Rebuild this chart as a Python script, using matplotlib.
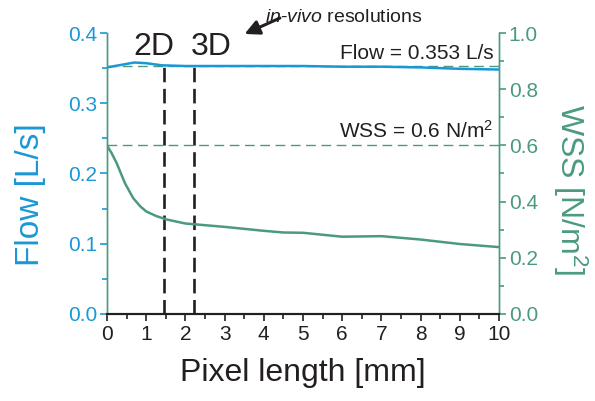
import matplotlib
matplotlib.use("Agg")
import matplotlib.pyplot as plt
from matplotlib.ticker import MultipleLocator, FormatStrFormatter

plt.rcParams['font.family'] = ['Liberation Sans', 'DejaVu Sans']
plt.rcParams['mathtext.fontset'] = 'custom'
plt.rcParams['mathtext.rm'] = 'Liberation Sans'
plt.rcParams['mathtext.it'] = 'Liberation Sans:italic'

BLUE = "#1a98d5"
GREEN = "#4b9a80"
DARK = "#231f20"

# flow rate along the pixel length sweep
flow_x = [0, 0.3, 0.7, 1.0, 1.4, 2, 3, 4, 5, 6, 7, 8, 9, 10]
flow = [0.351, 0.354, 0.358, 0.357, 0.354, 0.353, 0.353, 0.353, 0.353,
        0.352, 0.352, 0.351, 0.349, 0.348]

# wall shear stress along the same sweep
wss_x = [0, 0.12, 0.25, 0.46, 0.67, 0.85, 1.0, 1.25, 1.5, 2.0, 2.5, 3.0,
         3.5, 4.0, 4.5, 5.0, 5.5, 6.0, 7.0, 8.0, 9.0, 10.0]
wss = [0.60, 0.572, 0.536, 0.465, 0.412, 0.383, 0.365, 0.349, 0.337, 0.322,
       0.316, 0.310, 0.303, 0.296, 0.290, 0.289, 0.282, 0.275, 0.277, 0.265,
       0.249, 0.238]

flow_ref = 0.353
wss_ref = 0.6
res_2d = 1.46
res_3d = 2.22

fig = plt.figure(figsize=(5.95, 4.01), dpi=100)
ax = fig.add_axes([0.1798, 0.217, 0.6589, 0.7007])
ax2 = ax.twinx()

ax.plot(flow_x, flow, color=BLUE, lw=1.8, zorder=3)
ax.axhline(flow_ref, color=GREEN, lw=1.0, dashes=(7, 4), zorder=2)
ax2.plot(wss_x, wss, color=GREEN, lw=1.8, zorder=3)
ax2.axhline(wss_ref, color=GREEN, lw=1.0, dashes=(7, 4), zorder=2)

for xr in (res_2d, res_3d):
    ax.plot([xr, xr], [0, 0.3587], color=DARK, lw=1.9, dashes=(5.5, 2.5), zorder=4)

ax.set_xlim(0, 10)
ax.set_ylim(0, 0.4)
ax2.set_ylim(0, 1.0)

ax.xaxis.set_major_locator(MultipleLocator(1))
ax.xaxis.set_minor_locator(MultipleLocator(0.5))
ax.yaxis.set_major_locator(MultipleLocator(0.1))
ax.yaxis.set_minor_locator(MultipleLocator(0.05))
ax.yaxis.set_major_formatter(FormatStrFormatter('%.1f'))
ax2.yaxis.set_major_locator(MultipleLocator(0.2))
ax2.yaxis.set_minor_locator(MultipleLocator(0.1))
ax2.yaxis.set_major_formatter(FormatStrFormatter('%.1f'))

for a in (ax, ax2):
    a.spines['top'].set_visible(False)
    a.spines['left'].set_color(GREEN)
    a.spines['right'].set_color(GREEN)
    a.spines['bottom'].set_color(DARK)
    a.spines['bottom'].set_linewidth(1.5)
    a.spines['left'].set_linewidth(1.0)
    a.spines['right'].set_linewidth(1.0)

ax.tick_params(axis='x', which='both', direction='out', colors=DARK, labelsize=15,
               width=1.2, pad=3)
ax.tick_params(axis='x', which='major', length=5)
ax.tick_params(axis='x', which='minor', length=3.5)
ax.tick_params(axis='y', which='both', direction='out', colors=BLUE, labelsize=15,
               width=1.2, pad=2)
ax.tick_params(axis='y', which='major', length=5)
ax.tick_params(axis='y', which='minor', length=3.5)
ax2.tick_params(axis='y', which='both', direction='out', colors=GREEN, labelsize=15,
                width=1.2, pad=2)
ax2.tick_params(axis='y', which='major', length=5)
ax2.tick_params(axis='y', which='minor', length=3.5)

ax.set_xlabel("Pixel length [mm]", fontsize=23, color=DARK, labelpad=10)
ax.set_ylabel("Flow [L/s]", fontsize=24, color=BLUE, va='center', ha='center')
ax.yaxis.set_label_coords(-0.196, 0.4235)
ax2.set_ylabel("WSS [N/m$^2$]", fontsize=23, color=GREEN, rotation=270,
               va='center', ha='center')
ax2.yaxis.set_label_coords(1.181, 0.441)

ax.text(1.19, 0.3687, "2D", fontsize=23, color=DARK, ha='center', va='baseline', zorder=5)
ax.text(2.65, 0.3687, "3D", fontsize=23, color=DARK, ha='center', va='baseline', zorder=5)
ax.text(4.03, 0.4157, r"$in$-$vivo$ resolutions", fontsize=14, color=DARK,
        ha='left', va='baseline', clip_on=False)
ax.annotate("", xy=(3.51, 0.3986), xytext=(4.41, 0.4213),
            arrowprops=dict(arrowstyle='-|>', color=DARK, lw=2.2, mutation_scale=22,
                            shrinkA=0, shrinkB=0),
            annotation_clip=False)
ax.text(9.85, 0.363, "Flow = 0.353 L/s", fontsize=15, color=DARK, ha='right', va='baseline')
ax.text(9.85, 0.2505, "WSS = 0.6 N/m$^2$", fontsize=15, color=DARK, ha='right', va='baseline')

fig.savefig("out.png", dpi=100)
